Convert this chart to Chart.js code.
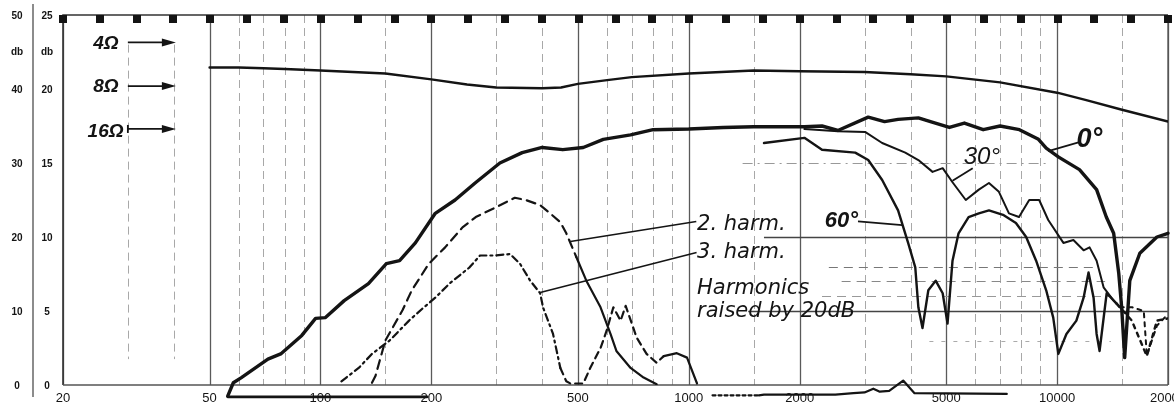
<!DOCTYPE html>
<html>
<head>
<meta charset="utf-8">
<script src="https://cdn.jsdelivr.net/npm/chart.js@4.4.1/dist/chart.umd.min.js"></script>
<style>
  html, body { margin: 0; padding: 0; background: #fff; }
  canvas { display: block; }
</style>
</head>
<body>
<canvas id="chart" width="1174" height="410"></canvas>
<script>
// frequency grid of the chart paper (Hz)
const gridFreqs = [20, 30, 40, 50, 60, 70, 80, 90, 100, 150, 200, 300, 400, 500, 600, 700, 800, 900,
    1000, 1500, 2000, 3000, 4000, 5000, 6000, 7000, 8000, 9000, 10000, 15000, 20000];
const labelFreqs = [20, 50, 100, 200, 500, 1000, 2000, 5000, 10000, 20000];
const labelTexts = ['20', '50', '100', '200', '500', '1000', '2000', '5000', '10000', '20000'];
const dbTicks = [0, 10, 20, 30, 40, 50];
const dbLeftLabels = ['0', '10', '20', '30', '40', '50'];
const dbRightLabels = ['0', '5', '10', '15', '20', '25'];

// impedance curve
const impFreq = [50, 60, 70, 80, 100, 150, 200, 250, 300, 400, 450, 500, 600, 700, 1000, 1500, 2000,
    3000, 4000, 5000, 7000, 10000, 12000, 15000, 20000];
const impDb = [42.9, 42.9, 42.8, 42.7, 42.5, 42.1, 41.3, 40.6, 40.2, 40.1, 40.2, 40.7, 41.2, 41.6, 42.1,
    42.5, 42.4, 42.3, 42.0, 41.7, 40.9, 39.5, 38.5, 37.2, 35.6];

// on axis response 0°
const zeroFreq = [56, 58, 61, 72, 78, 89, 97, 103, 116, 135, 151, 164, 181, 205, 232, 263, 307, 353, 400,
    455, 517, 586, 695, 800, 1000, 1240, 1500, 2060, 2300, 2540, 3070, 3400, 3700, 4200, 4600, 5100, 5600,
    6300, 7000, 7900, 8900, 9340, 10100, 11500, 12800, 13600, 14240, 14700, 14970, 15256, 15750, 16770,
    18660, 20000];
const zeroDb = [-1.5, 0.3, 1.0, 3.5, 4.2, 6.7, 9.0, 9.1, 11.4, 13.7, 16.4, 16.8, 19.2, 23.2, 25.0, 27.3,
    30.0, 31.4, 32.1, 31.8, 32.1, 33.2, 33.8, 34.5, 34.6, 34.8, 34.9, 34.9, 35.0, 34.4, 36.2, 35.6, 35.9,
    36.1, 35.5, 34.8, 35.4, 34.5, 35.0, 34.5, 33.2, 32.0, 30.8, 29.1, 26.4, 22.7, 20.5, 15.1, 10.5, 3.7,
    14.1, 17.8, 20.0, 20.5];

// 30° off axis
const thirtyFreq = [2060, 2540, 3010, 3350, 3870, 4200, 4590, 4890, 5200, 5650, 6130, 6530, 6950, 7400,
    7880, 8400, 8940, 9460, 10400, 11070, 11800, 12250, 12800, 13370, 14240, 14790, 16000, 17190, 17520,
    18660, 20000];
const thirtyDb = [34.6, 34.3, 34.2, 32.7, 31.4, 30.4, 28.8, 29.3, 27.4, 25.0, 26.4, 27.3, 26.1, 23.2,
    22.7, 25.0, 25.0, 22.3, 19.2, 19.6, 18.2, 18.6, 16.8, 13.2, 11.4, 10.5, 10.5, 10.0, 4.0, 8.0, 9.6];

// 60° off axis
const sixtyFreq = [1600, 2060, 2300, 2830, 3070, 3350, 3700, 3940, 4120, 4200, 4310, 4470, 4680, 4890,
    5040, 5200, 5400, 5750, 6130, 6530, 7130, 7730, 8240, 8770, 9340, 9760, 10076, 10600, 11280, 11800,
    12170, 12560, 12800, 13040, 13630, 14510, 15950, 17520, 18660, 20000];
const sixtyDb = [32.7, 33.4, 31.8, 31.4, 30.4, 27.7, 23.6, 19.2, 15.9, 10.5, 7.7, 12.8, 14.1, 12.4, 8.3,
    16.8, 20.5, 22.7, 23.2, 23.6, 23.0, 21.9, 20.0, 16.8, 12.8, 9.1, 4.2, 6.9, 8.7, 11.8, 15.2, 11.8, 6.9,
    4.6, 12.4, 11.0, 8.7, 3.9, 8.7, 9.0];

// 2nd harmonic (raised by 20 dB)
const h2Freq = [138, 141, 150, 167, 177, 197, 218, 243, 264, 299, 337, 361, 395, 420, 448, 465, 495, 527,
    576, 613, 636, 695, 754, 818];
const h2Db = [0.3, 1.2, 6.0, 10.1, 12.8, 16.4, 18.6, 21.3, 22.7, 24.0, 25.3, 25.0, 24.3, 23.2, 22.0,
    20.5, 17.3, 14.1, 10.5, 6.9, 4.6, 2.3, 1.0, 0.1];

// 3rd harmonic (raised by 20 dB)
const h3Freq = [114, 127, 138, 154, 174, 189, 205, 224, 254, 271, 299, 327, 348, 371, 395, 402, 428, 448,
    465, 477, 517, 540, 576, 598, 624, 653, 674, 722, 768, 818, 855, 928, 989, 1053];
const h3Db = [0.5, 2.3, 4.2, 6.0, 8.7, 10.3, 11.8, 13.7, 15.9, 17.5, 17.5, 17.7, 16.4, 14.1, 12.4, 10.5,
    6.9, 2.3, 0.5, 0.2, 0.2, 2.3, 5.0, 7.3, 10.5, 8.7, 10.7, 6.4, 4.2, 3.0, 3.9, 4.3, 3.7, 0.2];

// traces drawn just under the zero line
const lowFreqA = [56, 195];
const lowDbA = [-1.6, -1.6];
const lowFreqB = [1160, 1550, 1600, 2500, 2800, 3000, 3170, 3300, 3500, 3820, 4100, 7300];
const lowDbB = [-1.4, -1.4, -1.3, -1.3, -1.1, -1.0, -0.5, -0.9, -0.8, 0.6, -1.1, -1.2];

const pts = (f, v) => f.map((fx, i) => ({ x: fx, y: v[i] }));
const INK = '#141414';

function line(label, f, v, width, extra) {
    return Object.assign({
        label: label,
        data: pts(f, v),
        borderColor: INK,
        borderWidth: width,
        pointRadius: 0,
        tension: 0,
        fill: false,
        borderJoinStyle: 'round',
        borderCapStyle: 'round'
    }, extra || {});
}

const paper = {
    id: 'paper',
    beforeDatasetsDraw(chart) {
        const { ctx, chartArea: a, scales: { x, y } } = chart;
        ctx.save();
        // vertical grid lines
        gridFreqs.forEach(f => {
            const px = Math.round(x.getPixelForValue(f)) + 0.5;
            const major = labelFreqs.includes(f);
            ctx.strokeStyle = major ? '#5a5a5a' : '#a8a8a8';
            ctx.lineWidth = major ? 1.3 : 1;
            ctx.setLineDash(major ? [] : [8, 5]);
            let top = a.top, bot = a.bottom;
            if (f === 30 || f === 40) { top = y.getPixelForValue(46); bot = y.getPixelForValue(3.5); }
            ctx.beginPath(); ctx.moveTo(px, top); ctx.lineTo(px, bot); ctx.stroke();
        });
        // horizontal lines, only printed on the right part of the sheet
        const hl = (db, f0, f1, dash, col, w) => {
            const py = Math.round(y.getPixelForValue(db)) + 0.5;
            ctx.strokeStyle = col; ctx.lineWidth = w; ctx.setLineDash(dash);
            ctx.beginPath(); ctx.moveTo(x.getPixelForValue(f0), py); ctx.lineTo(x.getPixelForValue(f1), py); ctx.stroke();
        };
        hl(20, 1600, 20000, [], '#444', 1.3);
        hl(10, 1450, 20000, [], '#444', 1.3);
        hl(16, 2400, 12500, [9, 6], '#777', 1);
        hl(14, 2600, 13500, [9, 6], '#888', 1);
        hl(12, 2300, 14000, [9, 6], '#999', 1);
        hl(30, 1400, 9500, [10, 5, 2, 5], '#999', 1);
        hl(6, 4500, 14000, [4, 8], '#aaa', 1);
        ctx.setLineDash([]);
        // frame
        ctx.strokeStyle = '#333';
        ctx.lineWidth = 1.6;
        ctx.beginPath();
        ctx.moveTo(a.left, a.bottom); ctx.lineTo(a.left, a.top); ctx.lineTo(a.right, a.top);
        ctx.stroke();
        ctx.lineWidth = 1.3;
        ctx.strokeStyle = '#555';
        ctx.beginPath(); ctx.moveTo(a.right, a.top); ctx.lineTo(a.right, a.bottom); ctx.stroke();
        ctx.beginPath(); ctx.moveTo(a.left, a.bottom); ctx.lineTo(a.right, a.bottom); ctx.stroke();
        // outer scale line
        ctx.strokeStyle = '#666';
        ctx.lineWidth = 1.5;
        ctx.beginPath(); ctx.moveTo(a.left - 30, 4); ctx.lineTo(a.left - 30, a.bottom + 12); ctx.stroke();
        // square marks along the top edge, every tenth of a decade
        ctx.fillStyle = INK;
        for (let i = 0; i <= 30; i++) {
            const px = x.getPixelForValue(20 * Math.pow(10, i / 10));
            ctx.fillRect(Math.round(px) - 4, a.top, 8, 8);
        }
        ctx.restore();
    },
    afterDatasetsDraw(chart) {
        const { ctx, chartArea: a, scales: { x, y } } = chart;
        const X = f => x.getPixelForValue(f);
        const Y = v => y.getPixelForValue(v);
        ctx.save();
        ctx.fillStyle = INK;
        ctx.strokeStyle = INK;
        // dB labels
        ctx.font = 'bold 10px "Liberation Sans", Arial, sans-serif';
        ctx.textAlign = 'center';
        ctx.textBaseline = 'middle';
        dbTicks.forEach((v, i) => {
            ctx.fillText(dbLeftLabels[i], a.left - 46, Y(v) + 1);
            ctx.fillText(dbRightLabels[i], a.left - 16, Y(v) + 1);
        });
        ctx.fillText('db', a.left - 46, Y(45));
        ctx.fillText('db', a.left - 16, Y(45));
        // frequency labels
        ctx.font = '13px "Liberation Sans", Arial, sans-serif';
        labelFreqs.forEach((f, i) => ctx.fillText(labelTexts[i], X(f), a.bottom + 13));

        // impedance reference arrows
        const arrow = (v) => {
            const py = Y(v), x0 = X(30), x1 = X(40.5);
            ctx.lineWidth = 1.8;
            ctx.beginPath(); ctx.moveTo(x0, py); ctx.lineTo(x1 - 8, py); ctx.stroke();
            ctx.beginPath(); ctx.moveTo(x1 - 14, py - 4); ctx.lineTo(x1, py); ctx.lineTo(x1 - 14, py + 4); ctx.closePath(); ctx.fill();
        };
        arrow(46.3); arrow(40.4); arrow(34.6);
        ctx.lineWidth = 1.8;
        ctx.beginPath(); ctx.moveTo(X(30), Y(34.6) - 4); ctx.lineTo(X(30), Y(34.6) + 4); ctx.stroke();
        ctx.font = 'bold italic 19px "Liberation Sans", Arial, sans-serif';
        ctx.textAlign = 'right';
        ctx.textBaseline = 'alphabetic';
        ctx.fillText('4Ω', X(28.3), Y(45.4));
        ctx.fillText('8Ω', X(28.3), Y(39.6));
        ctx.fillText('16Ω', X(29.2), Y(33.5));

        // harmonic notes
        ctx.lineWidth = 1.6;
        ctx.beginPath(); ctx.moveTo(X(1048), Y(22.1)); ctx.lineTo(X(477), Y(19.4)); ctx.stroke();
        ctx.beginPath(); ctx.moveTo(X(1050), Y(17.9)); ctx.lineTo(X(395), Y(12.5)); ctx.stroke();
        ctx.textAlign = 'left';
        ctx.font = 'oblique 21px "DejaVu Sans", sans-serif';
        ctx.fillText('2. harm.', X(1053), Y(20.9));
        ctx.fillText('3. harm.', X(1053), Y(17.2));
        ctx.fillText('Harmonics', X(1053), Y(12.3));
        ctx.fillText('raised by 20dB', X(1053), Y(9.2));

        // angle labels
        ctx.lineWidth = 1.8;
        ctx.beginPath(); ctx.moveTo(X(2880), Y(22.1)); ctx.lineTo(X(3800), Y(21.6)); ctx.stroke();
        ctx.beginPath(); ctx.moveTo(X(5900), Y(29.3)); ctx.lineTo(X(5200), Y(27.6)); ctx.stroke();
        ctx.beginPath(); ctx.moveTo(X(11430), Y(32.8)); ctx.lineTo(X(9460), Y(31.6)); ctx.stroke();
        ctx.font = 'bold italic 22px "Liberation Sans", Arial, sans-serif';
        ctx.fillText('60°', X(2340), Y(21.4));
        ctx.font = 'italic 24px "Liberation Sans", Arial, sans-serif';
        ctx.fillText('30°', X(5576), Y(29.8));
        ctx.font = 'bold italic 27px "Liberation Sans", Arial, sans-serif';
        ctx.fillText('0°', X(11284), Y(32.2));
        ctx.restore();
    }
};

const dashBelow = (limit, dash) => ctx => (ctx.p0.parsed.x < limit ? dash : undefined);
const dashAbove = (limit, dash) => ctx => (ctx.p0.parsed.x >= limit ? dash : undefined);

new Chart(document.getElementById('chart'), {
    type: 'line',
    data: {
        datasets: [
            line('Impedance', impFreq, impDb, 2.4),
            line('0°', zeroFreq, zeroDb, 3.4, { clip: false }),
            line('30°', thirtyFreq, thirtyDb, 2.0, { segment: { borderDash: dashAbove(14790, [4, 5]) } }),
            line('60°', sixtyFreq, sixtyDb, 2.4, { segment: { borderDash: dashAbove(14510, [4, 5]) } }),
            line('2. harm.', h2Freq, h2Db, 2.2, { segment: { borderDash: dashBelow(470, [9, 6]) } }),
            line('3. harm.', h3Freq, h3Db, 2.2, { segment: { borderDash: ctx => (ctx.p0.parsed.x >= 850 ? undefined : (ctx.p0.parsed.x < 440 ? [7, 4, 2, 4] : [7, 5])) } }),
            line('low A', lowFreqA, lowDbA, 2.6, { clip: false }),
            line('low B', lowFreqB, lowDbB, 2.2, { clip: false, segment: { borderDash: dashBelow(1550, [3, 3]) } })
        ]
    },
    options: {
        responsive: false,
        animation: false,
        layout: { padding: { left: 63, right: 6, top: 15, bottom: 25 } },
        plugins: { legend: { display: false }, tooltip: { enabled: false } },
        scales: {
            x: { type: 'logarithmic', min: 20, max: 20000, display: false },
            y: { type: 'linear', min: 0, max: 50, display: false }
        }
    },
    plugins: [paper]
});
</script>
</body>
</html>
